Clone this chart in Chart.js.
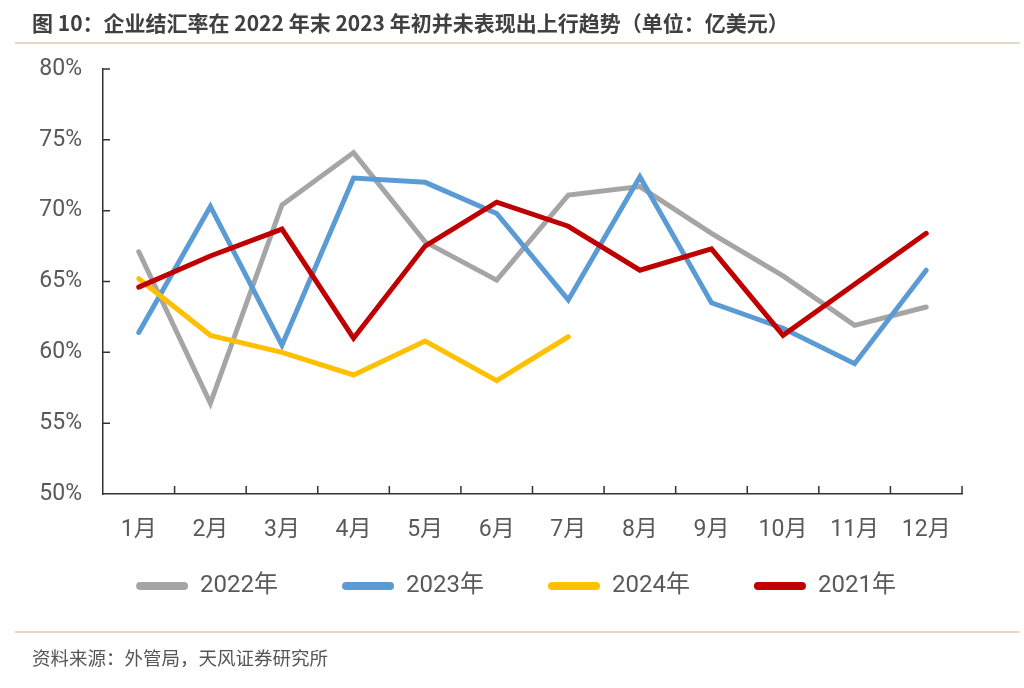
<!DOCTYPE html>
<html>
<head>
<meta charset="utf-8">
<script src="https://cdn.jsdelivr.net/npm/chart.js@4"></script>
<style>
  html, body { margin: 0; padding: 0; background: #fff; }
  #wrap { position: relative; width: 1024px; height: 688px; overflow: hidden; }
  #c { position: absolute; left: 0; top: 0; }
  #title { position: absolute; left: 32px; top: 9px; font-family: "Noto Sans CJK SC", "Liberation Sans", sans-serif; font-weight: bold; font-size: 21px; color: #404040; white-space: nowrap; line-height: 26px; }
  #line1 { position: absolute; left: 15px; width: 1005px; top: 42px; height: 2px; background: #e9d7c2; }
  #line2 { position: absolute; left: 15px; width: 1005px; top: 631px; height: 2px; background: #e9d7c2; }
  #src { position: absolute; left: 32px; top: 645px; font-family: "Noto Sans CJK SC", sans-serif; font-size: 18.5px; color: #555; white-space: nowrap; line-height: 24px; }
</style>
</head>
<body>
<div id="wrap">
  <canvas id="c" width="1024" height="688"></canvas>
  <div id="title">图 10：企业结汇率在 2022 年末 2023 年初并未表现出上行趋势（单位：亿美元）</div>
  <div id="line1"></div>
  <div id="line2"></div>
  <div id="src">资料来源：外管局，天风证券研究所</div>
</div>
<script>
const months = ['1月','2月','3月','4月','5月','6月','7月','8月','9月','10月','11月','12月'];
const s2022 = [67.1, 56.4, 70.4, 74.1, 67.8, 65.1, 71.1, 71.7, 68.4, 65.4, 61.9, 63.2];
const s2023 = [61.4, 70.3, 60.5, 72.3, 72.0, 69.8, 63.7, 72.4, 63.5, 61.7, 59.2, 65.8];
const s2024 = [65.2, 61.2, 60.0, 58.4, 60.8, 58.0, 61.1];
const s2021 = [64.6, 66.8, 68.7, 61.0, 67.5, 70.6, 68.9, 65.8, 67.3, 61.2, 64.8, 68.4];
const seriesNames = ['2022年','2023年','2024年','2021年'];
const yTicks = [50, 55, 60, 65, 70, 75, 80];

const colors = ['#a5a5a5', '#5b9bd5', '#ffc000', '#c00000'];
const numFont = 'Roboto, "Noto Sans CJK SC", sans-serif';

function ds(label, data, color, order) {
  return {
    label, data, borderColor: color, backgroundColor: color,
    borderWidth: 5, pointRadius: 0, pointHoverRadius: 0, tension: 0,
    borderCapStyle: 'round', borderJoinStyle: 'miter', fill: false, order
  };
}

const innerTicks = {
  id: 'innerTicks',
  afterLayout(chart) {
    // pull the legend up closer to the axis labels and re-center it, as in the reference
    const lg = chart.legend;
    if (lg) { lg.top -= 40; lg.bottom -= 40; lg.left += 35; lg.right += 35; }
  },
  afterDraw(chart) {
    const ctx = chart.ctx;
    const x = chart.scales.x, y = chart.scales.y;
    const a = chart.chartArea;
    ctx.save();
    ctx.strokeStyle = '#333';
    ctx.lineWidth = 1.5;
    ctx.beginPath();
    const n = months.length;
    for (let i = 0; i < n; i++) {
      const p = (x.getPixelForValue(i) + (i < n - 1 ? x.getPixelForValue(i + 1) : 2 * x.getPixelForValue(i) - x.getPixelForValue(i - 1))) / 2;
      ctx.moveTo(p, a.bottom);
      ctx.lineTo(p, a.bottom - 8);
    }
    yTicks.forEach(v => {
      if (v === yTicks[0]) return;
      const py = y.getPixelForValue(v);
      ctx.moveTo(a.left, py);
      ctx.lineTo(a.left + 7, py);
    });
    ctx.stroke();
    ctx.restore();
  }
};

new Chart(document.getElementById('c'), {
  type: 'line',
  data: {
    labels: months,
    datasets: [
      ds(seriesNames[0], s2022, colors[0], 3),
      ds(seriesNames[1], s2023, colors[1], 2),
      ds(seriesNames[2], s2024, colors[2], 1),
      ds(seriesNames[3], s2021, colors[3], 0)
    ]
  },
  options: {
    responsive: false,
    devicePixelRatio: 1,
    animation: false,
    layout: { padding: { left: 0, right: 62, top: 69, bottom: 40 } },
    plugins: {
      tooltip: { enabled: false },
      legend: {
        position: 'bottom',
        labels: {
          boxWidth: 52, boxHeight: 8, padding: 64,
          color: '#595959',
          font: { family: numFont, size: 24 },
          useBorderRadius: true, borderRadius: 4,
          sort: (a, b) => a.datasetIndex - b.datasetIndex,
          generateLabels(chart) {
            const items = Chart.defaults.plugins.legend.labels.generateLabels(chart);
            items.forEach(it => { it.lineWidth = 0; it.borderRadius = 4; });
            return items;
          }
        }
      }
    },
    scales: {
      x: {
        offset: true,
        grid: { display: false, drawTicks: false, tickLength: 0, offset: true },
        border: { display: true, color: '#333', width: 1.5 },
        ticks: { color: '#595959', font: { family: numFont, size: 23 }, padding: 22, maxRotation: 0, autoSkip: false },
        afterFit(s) { s.height = 56; }
      },
      y: {
        min: yTicks[0], max: yTicks[yTicks.length - 1],
        grid: { display: false, drawTicks: false, tickLength: 0 },
        border: { display: true, color: '#333', width: 1.5 },
        ticks: { stepSize: 5, color: '#595959', font: { family: numFont, size: 23 }, padding: 21, callback: v => v + '%' },
        afterFit(s) { s.width = 103; }
      }
    }
  },
  plugins: [innerTicks]
});
</script>
</body>
</html>
